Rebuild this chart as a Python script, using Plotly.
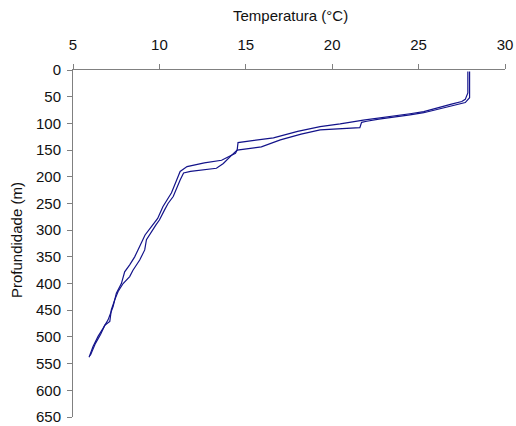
import plotly.graph_objects as go

# Profile 1 (upper in thermocline)
temp_1 = [27.85, 27.85, 27.7, 27.5, 26.9, 26.2, 25.3, 24.5, 23.5, 22.5, 21.8, 21.0, 20.46, 19.3,
          18.0, 16.6, 15.5, 14.55, 14.5, 14.4, 13.6, 12.6, 11.6, 11.2, 11.0, 10.7, 10.2, 9.9,
          9.55, 9.17, 8.76, 8.57, 8.28, 7.99, 7.80, 7.51, 7.32, 7.03, 6.74, 6.45, 6.16, 5.93]
depth_1 = [3, 43, 55, 59, 64, 70, 78, 82, 86, 90, 94, 98, 101, 106,
           115, 127, 132, 136, 150, 156, 169, 174, 181, 190, 206, 230, 256, 278,
           293, 309, 337, 350, 365, 378, 400, 418, 443, 468, 484, 499, 518, 538]

# Profile 2 (lower in thermocline)
temp_2 = [27.95, 27.95, 27.7, 26.9, 26.2, 25.3, 24.5, 23.5, 22.7, 22.0, 21.7, 21.6, 20.5, 19.3,
          18.2, 17.0, 15.9, 14.5, 14.2, 13.7, 13.3, 12.4, 11.8, 11.4, 11.2, 10.8, 10.5, 10.3,
          10.0, 9.8, 9.55, 9.25, 9.15, 8.86, 8.47, 8.28, 7.90, 7.61, 7.41, 7.22, 7.13, 6.84, 6.6,
          6.3, 6.0]
depth_2 = [3, 52, 61, 67, 73, 80, 84, 88, 92, 96, 98, 108, 110, 112,
           120, 131, 144, 150, 159, 175, 184, 187, 190, 193, 206, 237, 250, 262,
           281, 290, 303, 318, 337, 356, 375, 387, 400, 415, 431, 449, 471, 478, 495,
           512, 535]

x_ticks = [5, 10, 15, 20, 25, 30]
y_ticks = [0, 50, 100, 150, 200, 250, 300, 350, 400, 450, 500, 550, 600, 650]

line_color = "#13138a"
font_family = "Liberation Sans, Arial, sans-serif"
FS = 15

fig = go.Figure()
for t, d in [(temp_1, depth_1), (temp_2, depth_2)]:
    fig.add_trace(go.Scatter(x=t, y=d, mode="lines",
                             line=dict(color=line_color, width=1.2),
                             showlegend=False, hoverinfo="skip"))

axis_common = dict(showgrid=False, zeroline=False, showline=True, linecolor="#808080", linewidth=1,
                   ticks="outside", ticklen=5, tickcolor="#808080", tickwidth=1, automargin=False,
                   tickfont=dict(size=FS, family=font_family, color="#111111"))

fig.update_layout(
    width=516, height=426,
    margin=dict(l=73, r=11, t=70, b=9),
    paper_bgcolor="white", plot_bgcolor="white",
    font=dict(family=font_family, size=FS, color="#111111"),
    xaxis=dict(range=[5, 30], side="top", tickvals=x_ticks, ticktext=[str(v) for v in x_ticks],
               ticklabelstandoff=8, **axis_common),
    yaxis=dict(range=[650, 0], tickvals=y_ticks, ticktext=[str(v) for v in y_ticks],
               ticklabelstandoff=3, **axis_common),
)
plot_h = 426 - 70 - 9
plot_w = 516 - 73 - 11
fig.add_annotation(text="Temperatura (°C)", xref="paper", yref="paper",
                   x=(290 - 73) / plot_w, y=1 + (70 - 16) / plot_h,
                   showarrow=False, font=dict(size=FS, family=font_family),
                   xanchor="center", yanchor="middle")
fig.add_annotation(text="Profundidade (m)", xref="paper", yref="paper",
                   x=(17 - 73) / plot_w, y=1 - (240 - 70) / plot_h, textangle=-90,
                   showarrow=False, font=dict(size=FS, family=font_family),
                   xanchor="center", yanchor="middle")

fig.write_html("out.html")
